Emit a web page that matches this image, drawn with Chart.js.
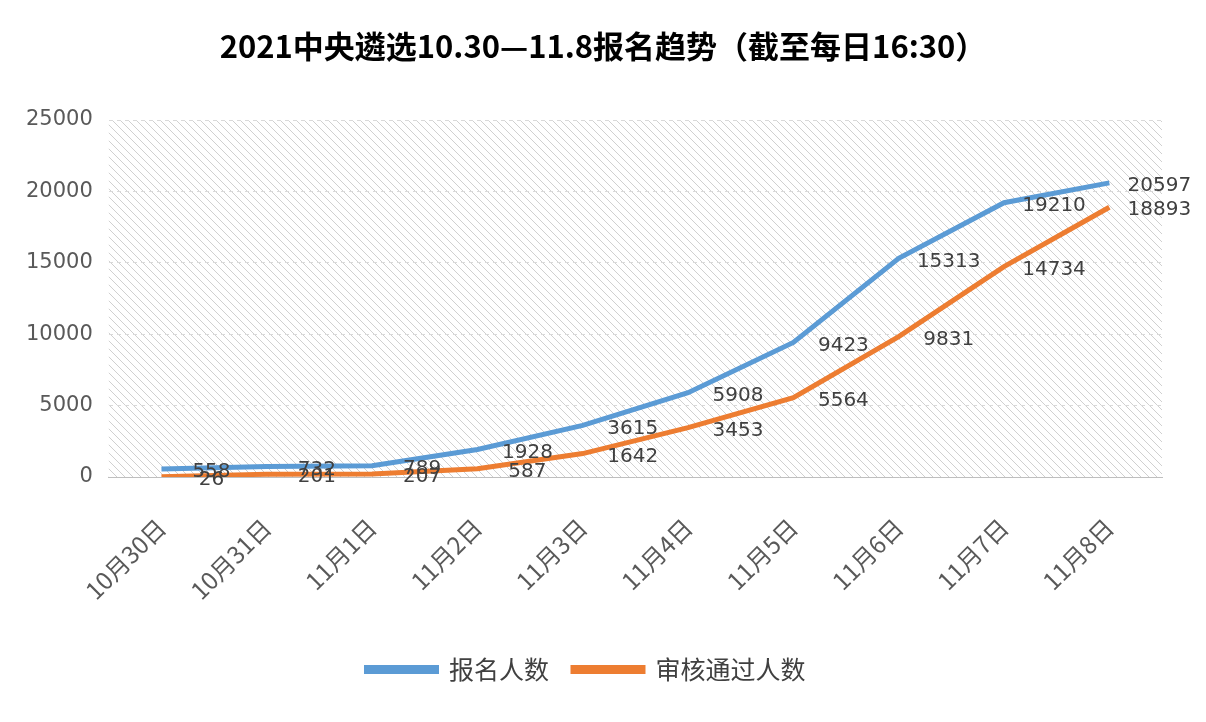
<!DOCTYPE html>
<html><head><meta charset="utf-8">
<script src="https://cdn.jsdelivr.net/npm/chart.js@4/dist/chart.umd.min.js"></script>
<style>html,body{margin:0;padding:0;background:#fff}#wrap{width:1206px;height:722px;position:relative}
#title{position:absolute;top:22px;left:0;width:1206px;text-align:center;font:bold 31px "Noto Sans CJK SC","Liberation Serif",serif;color:#000}</style>
</head><body>
<div id="wrap"><div id="title">2021中央遴选10.30—11.8报名趋势（截至每日16:30）</div><canvas id="c" width="1206" height="722"></canvas></div>
<script>
const categories = ['10月30日','10月31日','11月1日','11月2日','11月3日','11月4日','11月5日','11月6日','11月7日','11月8日'];
const applicants = [558, 732, 789, 1928, 3615, 5908, 9423, 15313, 19210, 20597];
const approved = [26, 201, 207, 587, 1642, 3453, 5564, 9831, 14734, 18893];
const yTicks = [0, 5000, 10000, 15000, 20000, 25000];

function hatch() {
  const p = document.createElement('canvas'); p.width = 8; p.height = 8;
  const g = p.getContext('2d');
  g.strokeStyle = '#d0d0d0'; g.lineWidth = 1;
  g.beginPath(); g.moveTo(0, 0); g.lineTo(8, 8); g.moveTo(-4, 4); g.lineTo(4, 12); g.moveTo(4, -4); g.lineTo(12, 4); g.stroke();
  return g.createPattern(p, 'repeat');
}

const bgPlugin = {
  id: 'bg',
  beforeDraw(chart) {
    const { ctx, chartArea: a } = chart;
    ctx.save(); ctx.fillStyle = hatch(); ctx.fillRect(a.left, a.top, a.right - a.left, a.bottom - a.top); ctx.restore();
  }
};
const labelPlugin = {
  id: 'labels',
  afterDatasetsDraw(chart) {
    const ctx = chart.ctx;
    ctx.save(); ctx.font = '20px "DejaVu Sans"'; ctx.fillStyle = '#404040';
    ctx.textAlign = 'center'; ctx.textBaseline = 'middle';
    chart.data.datasets.forEach((ds, di) => {
      chart.getDatasetMeta(di).data.forEach((pt, i) => {
        ctx.fillText(ds.data[i], pt.x + 50, pt.y + 3);
      });
    });
    ctx.restore();
  }
};

new Chart(document.getElementById('c'), {
  type: 'line',
  data: {
    labels: categories,
    datasets: [
      { label: '报名人数', data: applicants, borderColor: '#5b9bd5', backgroundColor: '#5b9bd5', borderWidth: 5, pointRadius: 0, tension: 0 },
      { label: '审核通过人数', data: approved, borderColor: '#ed7d31', backgroundColor: '#ed7d31', borderWidth: 5, pointRadius: 0, tension: 0 }
    ]
  },
  options: {
    responsive: false, animation: false,
    layout: { padding: { top: 120, left: 10, right: 44, bottom: 30 } },
    plugins: {
      legend: { position: 'bottom', labels: { boxWidth: 70, boxHeight: 4, padding: 24, color: '#404040', font: { size: 25, family: '"Noto Sans CJK SC"' } } },
      tooltip: { enabled: false }
    },
    scales: {
      y: {
        min: 0, max: 25000,
        afterBuildTicks: (ax) => { ax.ticks = yTicks.map(v => ({ value: v })); },
        ticks: { color: '#595959', font: { size: 21, family: '"DejaVu Sans"' }, padding: 16, callback: (v) => String(v) },
        grid: { color: '#d9d9d9', drawTicks: false },
        border: { display: false, dash: [4, 4] }
      },
      x: {
        offset: true,
        ticks: { color: '#595959', font: { size: 24, family: '"Noto Sans CJK SC"' }, maxRotation: 45, minRotation: 45, padding: 28 },
        grid: { display: false },
        border: { color: '#bfbfbf' }
      }
    }
  },
  plugins: [bgPlugin, labelPlugin]
});
</script>
</body></html>
